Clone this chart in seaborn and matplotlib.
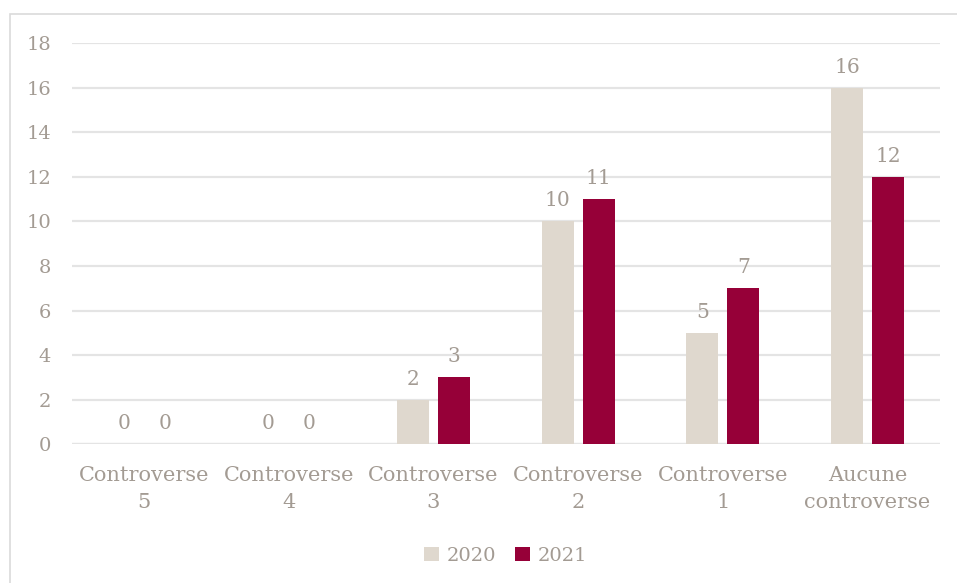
import matplotlib
matplotlib.use("Agg")
import matplotlib.pyplot as plt
from matplotlib.patches import Rectangle
import seaborn as sns
import pandas as pd

categories = ["Controverse\n5", "Controverse\n4", "Controverse\n3",
              "Controverse\n2", "Controverse\n1", "Aucune\ncontroverse"]
years = ["2020", "2021"]
values_2020 = [0, 0, 2, 10, 5, 16]
values_2021 = [0, 0, 3, 11, 7, 12]
y_ticks = [0, 2, 4, 6, 8, 10, 12, 14, 16, 18]

colors = {"2020": "#DFD8CE", "2021": "#960038"}
text_color = "#A39B93"
grid_color = "#E4E4E4"

df = pd.DataFrame({
    "categorie": categories * 2,
    "annee": [years[0]] * len(categories) + [years[1]] * len(categories),
    "valeur": values_2020 + values_2021,
})

sns.set_theme(style="white")
plt.rcParams["font.family"] = ["DejaVu Serif"]

fig = plt.figure(figsize=(9.57, 5.83), dpi=100)
ax = fig.add_axes([0.075, 0.238, 0.907, 0.688])

sns.barplot(data=df, x="categorie", y="valeur", hue="annee",
            order=categories, hue_order=years, palette=colors,
            saturation=1, linewidth=0, width=0.567, gap=0.22,
            ax=ax, legend=True, zorder=3)

for container in ax.containers:
    ax.bar_label(container, fmt="%g", padding=8, fontsize=14.5, color=text_color)

ax.set_ylim(0, 18)
ax.set_yticks(y_ticks)
ax.set_xlim(-0.5, len(categories) - 0.5)
ax.yaxis.grid(True, color=grid_color, linewidth=1.6, zorder=0)
ax.set_axisbelow(True)
for side in ["top", "right", "left", "bottom"]:
    ax.spines[side].set_visible(False)
ax.axhline(0, color=grid_color, linewidth=1.6, zorder=1)
ax.set_xlabel("")
ax.set_ylabel("")
ax.tick_params(axis="y", length=0, labelsize=14, labelcolor=text_color, pad=15)
ax.tick_params(axis="x", length=0, labelsize=15, labelcolor=text_color, pad=16)
for lbl in ax.get_xticklabels():
    lbl.set_linespacing(1.5)

ax.legend(loc="upper center", bbox_to_anchor=(0.5, -0.212), ncol=2,
          frameon=False, fontsize=14, labelcolor=text_color,
          handlelength=0.75, handleheight=0.75, handletextpad=0.4,
          columnspacing=1.0)

fig.patches.append(Rectangle((10 / 957, -0.01), 1.0, 1 - 14 / 583 + 0.01,
                             transform=fig.transFigure, fill=False,
                             edgecolor="#DADADA", linewidth=1.2))

fig.savefig("out.png", dpi=100)
